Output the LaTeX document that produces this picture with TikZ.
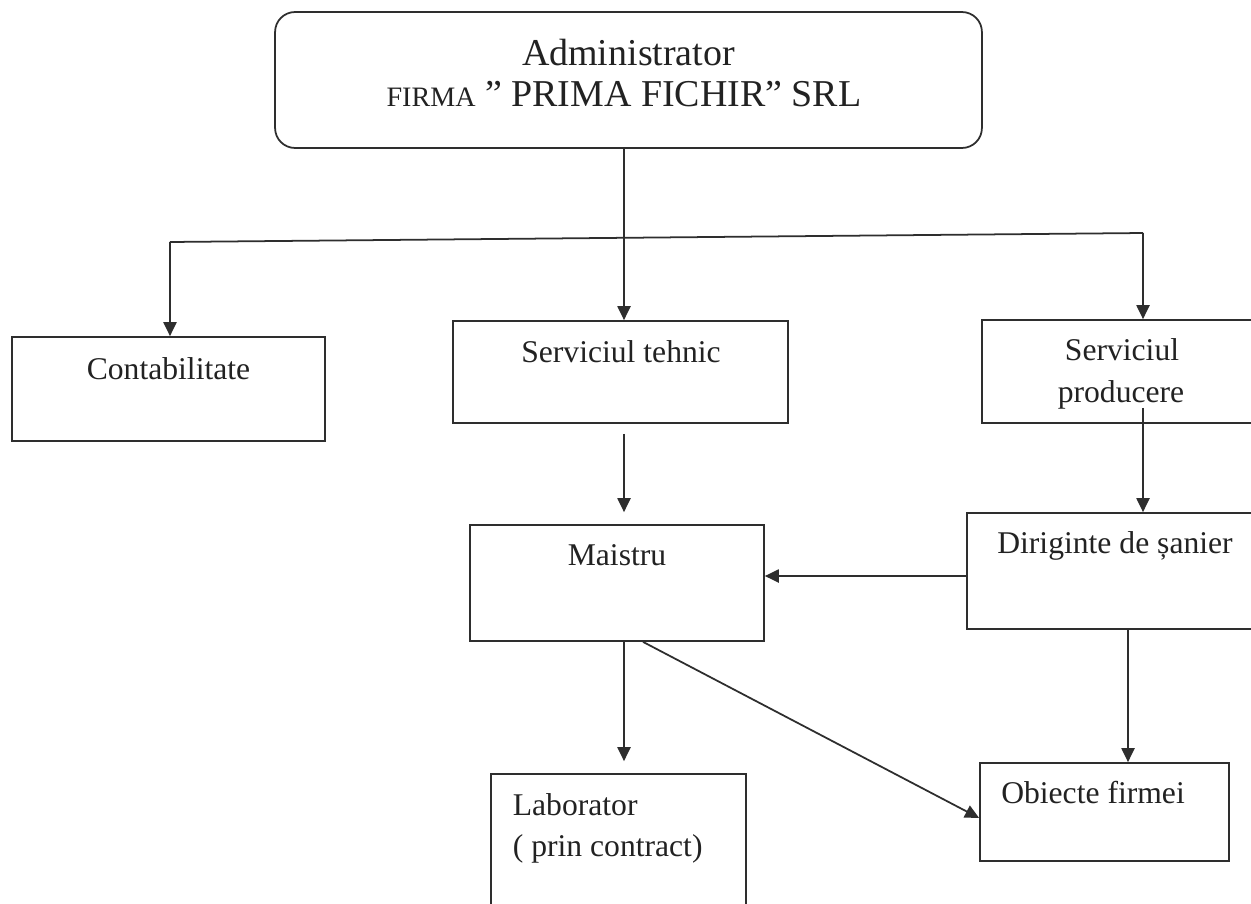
\documentclass[tikz,border=0pt]{standalone}
\usepackage{fontspec}
\setmainfont{Liberation Serif}
\usepackage{xcolor}
\usepackage{tikz}
\usetikzlibrary{arrows.meta,calc}
\definecolor{ink}{HTML}{2E2E2E}
\definecolor{txtc}{HTML}{222222}

\tikzset{
  box/.style={draw=ink,line width=1pt,inner sep=0pt},
  lbl/.style={text=txtc,inner sep=0pt,font=\fontsize{18}{22}\selectfont},
  big/.style={text=txtc,inner sep=0pt,font=\fontsize{21.6}{26}\selectfont},
}

\begin{document}
\begin{tikzpicture}[x=0.02cm,y=-0.02cm,>={Triangle[length=8pt,width=7.5pt]},line width=1pt,draw=ink]
\useasboundingbox (0,0) rectangle (1251,903);
\fill[white] (0,0) rectangle (1251,903);
\clip (0,0) rectangle (1251,903);

% boxes
\node[box,rounded corners=0.4cm,minimum width=14.14cm,minimum height=2.72cm] (adm) at (628.5,80) {};
\node[box,minimum width=6.26cm,minimum height=2.08cm] (contab) at (168.5,389) {};
\node[box,minimum width=6.70cm,minimum height=2.04cm] (tehnic) at (620.5,372) {};
\node[box,minimum width=6.44cm,minimum height=2.06cm] (prod) at (1143,371.5) {};
\node[box,minimum width=5.88cm,minimum height=2.32cm] (mai) at (617,583) {};
\node[box,minimum width=7.00cm,minimum height=2.32cm] (dir) at (1142,571) {};
\node[box,minimum width=4.98cm,minimum height=1.96cm] (obj) at (1104.5,812) {};
\node[box,minimum width=5.10cm,minimum height=3.52cm] (lab) at (618.5,862) {};

% texts
\node[big,anchor=base] (adm-t1) at (628.5,65) {Administrator};
\node[big,anchor=base] (adm-t2) at (624,106) {{\fontsize{16}{19}\selectfont FIRMA} ” PRIMA FICHIR” SRL};
\node[lbl,anchor=base] (contab-t) at (168.5,379) {Contabilitate};
\node[lbl,anchor=base] (tehnic-t) at (621,362) {Serviciul tehnic};
\node[lbl,anchor=base] (prod-t1) at (1122,360) {Serviciul};
\node[lbl,anchor=base] (prod-t2) at (1121,402) {producere};
\node[lbl,anchor=base] (mai-t) at (617,565) {Maistru};
\node[lbl,anchor=base] (dir-t) at (1115,553) {Diriginte de șanier};
\node[lbl,anchor=base] (obj-t) at (1093,803) {Obiecte firmei};
\node[lbl,anchor=base west] (lab-t1) at (512,815) {Laborator};
\node[lbl,anchor=base west] (lab-t2) at (512,856) {( prin contract)};

% connectors
\coordinate (vcol) at (624,0);
\coordinate (brL) at (170,242);
\coordinate (brR) at (1143,233);
\coordinate (dcol) at (1128,0);
\coordinate (drow) at (0,576);

\draw[->] (adm.south -| vcol) -- (tehnic.north -| vcol);
\draw (brL) -- (brR);
\draw[->] (brL) -- (brL |- contab.north);
\draw[->] (brR) -- (brR |- prod.north);
\draw[->,shorten <=0.2cm,shorten >=0.24cm] (tehnic.south -| vcol) -- (mai.north -| vcol);
\draw[->,shorten <=-0.32cm] (prod.south -| brR) -- (dir.north -| brR);
\draw[->] (dir.west |- drow) -- (mai.east |- drow);
\draw[->] (dir.south -| dcol) -- (obj.north -| dcol);
\draw[->,shorten >=0.24cm] (mai.south -| vcol) -- (lab.north -| vcol);
\draw[->] ($(mai.south)+(26,0)$) -- ($(obj.west)+(0,6)$);
\end{tikzpicture}
\end{document}
